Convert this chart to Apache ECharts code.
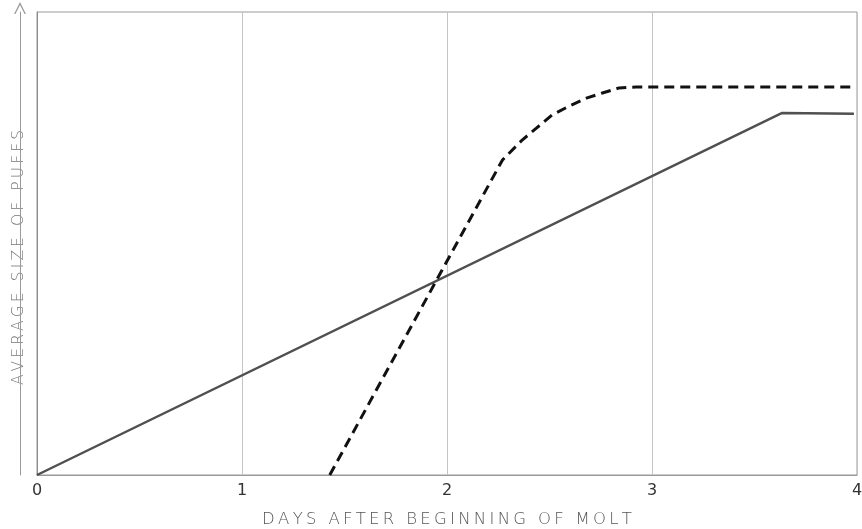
<!DOCTYPE html>
<html>
<head>
<meta charset="utf-8">
<style>
  html, body { margin: 0; padding: 0; background: #fff; }
  #chart { width: 862px; height: 529px; }
</style>
<script src="https://cdn.jsdelivr.net/npm/echarts@6/dist/echarts.min.js"></script>
</head>
<body>
<div id="chart"></div>
<script>
// Days after the beginning of the molt (x) and relative puff size (y, 0–100)
const dayTicks = [0, 1, 2, 3, 4];

// Solid curve: steady growth, levelling off late on day 3
const steadyDays  = [0, 3.635, 3.985];
const steadySizes = [0, 78.2, 78.0];

// Dashed curve: late start, steep rise, then a plateau
const rapidDays  = [1.428, 2.270, 2.368, 2.436, 2.514, 2.597, 2.680, 2.758, 2.840, 2.923, 3.985];
const rapidSizes = [0, 68.0, 72.4, 74.9, 77.8, 79.7, 81.4, 82.5, 83.6, 83.8, 83.8];

const xTitle = 'DAYS AFTER BEGINNING OF MOLT';
const yTitle = 'AVERAGE SIZE OF PUFFS';

const zip = (xs, ys) => xs.map((x, i) => [x, ys[i]]);
// widen titles with thin spaces between letters
const spaced = s => s.split('').join('\u2009');

const chart = echarts.init(document.getElementById('chart'));
chart.setOption({
  backgroundColor: '#fff',
  animation: false,
  grid: {
    left: 37, right: 5, top: 12, bottom: 54,
    outerBoundsMode: 'none',
    show: true, borderColor: '#9a9a9a', borderWidth: 1
  },
  xAxis: {
    type: 'value', min: 0, max: 4, interval: 1,
    name: spaced(xTitle), nameLocation: 'middle', nameGap: 36,
    nameTextStyle: { fontFamily: 'DejaVu Sans', fontSize: 16.5, color: '#555', fontWeight: 'lighter' },
    axisLine: { show: true, lineStyle: { color: '#999', width: 1 } },
    axisTick: { show: false },
    axisLabel: {
      margin: 8, fontFamily: 'DejaVu Sans', fontSize: 16, color: '#333',
      formatter: v => dayTicks.includes(v) ? String(v) : ''
    },
    splitLine: { show: true, lineStyle: { color: '#c4c4c4', width: 1 } }
  },
  yAxis: [
    {
      type: 'value', min: 0, max: 100,
      axisLine: { show: true, lineStyle: { color: '#8a8a8a', width: 1 } },
      axisTick: { show: false }, axisLabel: { show: false }, splitLine: { show: false }
    },
    {
      // arrowed title axis running beside the plot
      type: 'value', min: 0, max: 100, position: 'left', offset: 17,
      name: '{t|' + spaced(yTitle) + '}{s|}', nameLocation: 'middle', nameGap: -9, nameRotate: 90,
      nameTextStyle: {
        fontFamily: 'DejaVu Sans', fontSize: 15.5, color: '#777', fontWeight: 'lighter',
        rich: {
          t: {
            fontFamily: 'DejaVu Sans', fontSize: 15.5, color: '#777', fontWeight: 'lighter',
            backgroundColor: '#ffffff', padding: [2, 5, 2, 5]
          },
          s: { width: 28 }
        }
      },
      axisLine: {
        show: true,
        symbol: ['none', 'path://M0,10 L5,0 L10,10 L8.8,10 L5,2.4 L1.2,10 Z'],
        symbolSize: [12, 16], symbolOffset: [0, 4],
        lineStyle: { color: '#9a9a9a', width: 1 }
      },
      axisTick: { show: false }, axisLabel: { show: false }, splitLine: { show: false }
    }
  ],
  series: [
    {
      type: 'line', yAxisIndex: 0, data: zip(steadyDays, steadySizes),
      symbol: 'none',
      lineStyle: { color: '#505050', width: 2.5 }
    },
    {
      type: 'line', yAxisIndex: 0, data: zip(rapidDays, rapidSizes),
      symbol: 'none', smooth: false,
      lineStyle: { color: '#111', width: 3, type: [10, 6] }
    }
  ]
});
</script>
</body>
</html>
